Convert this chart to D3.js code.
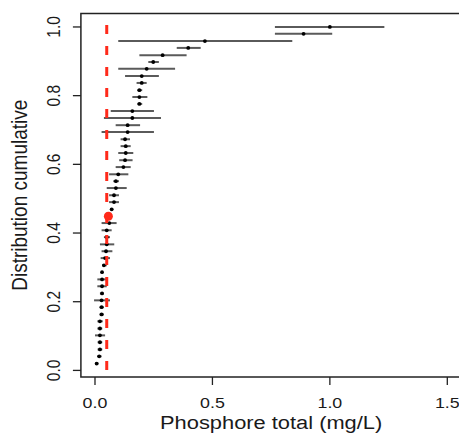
<!DOCTYPE html>
<html>
<head>
<meta charset="utf-8">
<script src="https://cdn.jsdelivr.net/npm/d3@7"></script>
<style>
  html, body { margin: 0; padding: 0; background: #ffffff; }
  svg { display: block; }
  text { font-family: "Liberation Sans", Arial, Helvetica, sans-serif; fill: #1a1a1a; }
</style>
</head>
<body>
<svg id="chart" width="459" height="445"></svg>
<script>
// Cumulative distribution position of each sample (top to bottom)
const cdf = [1.000, 0.980, 0.959, 0.939, 0.918, 0.898, 0.878, 0.857, 0.837, 0.816,
             0.796, 0.776, 0.755, 0.735, 0.714, 0.694, 0.673, 0.653, 0.633, 0.612,
             0.592, 0.571, 0.551, 0.531, 0.510, 0.490, 0.469, 0.449, 0.429, 0.408,
             0.388, 0.367, 0.347, 0.327, 0.306, 0.286, 0.265, 0.245, 0.224, 0.204,
             0.184, 0.163, 0.143, 0.122, 0.102, 0.082, 0.061, 0.041, 0.020];
// Total phosphorus estimate (mg/L)
const phosphore = [1.000, 0.888, 0.468, 0.397, 0.288, 0.248, 0.220, 0.199, 0.199, 0.189,
                   0.189, 0.189, 0.159, 0.159, 0.139, 0.139, 0.128, 0.131, 0.131, 0.128,
                   0.121, 0.099, 0.089, 0.089, 0.081, 0.081, 0.071, 0.061, 0.061, 0.050,
                   0.050, 0.050, 0.047, 0.043, 0.038, 0.030, 0.030, 0.030, 0.030, 0.028,
                   0.028, 0.028, 0.021, 0.021, 0.021, 0.021, 0.021, 0.018, 0.007];
// Lower and upper bounds of each interval
const lower = [0.766, 0.766, 0.099, 0.348, 0.189, 0.227, 0.099, 0.128, 0.177, 0.180,
               0.159, 0.180, 0.067, 0.038, 0.088, 0.028, 0.109, 0.109, 0.099, 0.103,
               0.088, 0.060, 0.078, 0.050, 0.060, 0.060, 0.064, 0.053, 0.028, 0.028,
               0.038, 0.021, 0.028, 0.024, 0.030, 0.028, 0.010, 0.010, 0.021, -0.004,
               0.019, 0.019, 0.010, 0.010, 0.000, 0.011, 0.011, 0.009, 0.000];
const upper = [1.232, 1.010, 0.840, 0.450, 0.390, 0.272, 0.341, 0.272, 0.220, 0.201,
               0.223, 0.201, 0.251, 0.281, 0.192, 0.251, 0.149, 0.152, 0.163, 0.160,
               0.152, 0.142, 0.102, 0.135, 0.102, 0.102, 0.078, 0.070, 0.092, 0.071,
               0.064, 0.082, 0.074, 0.064, 0.050, 0.033, 0.050, 0.050, 0.038, 0.064,
               0.038, 0.038, 0.033, 0.031, 0.043, 0.031, 0.031, 0.028, 0.015];
// Reference threshold and highlighted point
const threshold = [0.05];
const highlight = [{ x: 0.057, y: 0.449 }];
const xTicks = [0, 0.5, 1.0, 1.5];
const yTicks = [0, 0.2, 0.4, 0.6, 0.8, 1.0];
const xTitle = "Phosphore total (mg/L)";
const yTitle = "Distribution cumulative";

const data = cdf.map((y, i) => ({ y, x: phosphore[i], lo: lower[i], hi: upper[i] }));

const svg = d3.select("#chart");
const stretch = 1.15; // horizontal stretch of the original rendering

// R-like 4% expansion
const xlim = [0, 1.5];
const xr = xlim[1] - xlim[0];
const yExt = d3.extent(cdf);
const yr = yExt[1] - yExt[0];

const x = d3.scaleLinear()
  .domain([xlim[0] - 0.04 * xr, xlim[1] + 0.04 * xr])
  .range([80.9, 461.4]);
const y = d3.scaleLinear()
  .domain([yExt[0] - 0.04 * yr, yExt[1] + 0.04 * yr])
  .range([377, 13.5]);

const [x0, x1] = x.range();
const [yb, yt] = y.range();

// error bars
svg.append("g").selectAll("line")
  .data(data).join("line")
  .attr("x1", d => x(d.lo)).attr("x2", d => x(d.hi))
  .attr("y1", d => y(d.y)).attr("y2", d => y(d.y))
  .attr("stroke", "#5a5a5a").attr("stroke-width", 2);

// points
svg.append("g").selectAll("circle")
  .data(data).join("circle")
  .attr("cx", d => x(d.x)).attr("cy", d => y(d.y))
  .attr("r", 1.9).attr("fill", "#000");

// threshold line
svg.append("g").selectAll("line")
  .data(threshold).join("line")
  .attr("x1", d => x(d)).attr("x2", d => x(d))
  .attr("y1", y(1.0) - 2).attr("y2", y(0))
  .attr("stroke", "#ff2a1a").attr("stroke-width", 3)
  .attr("stroke-dasharray", "9,12");

// highlighted point
svg.append("g").selectAll("circle")
  .data(highlight).join("circle")
  .attr("cx", d => x(d.x)).attr("cy", d => y(d.y))
  .attr("r", 4.5).attr("fill", "#ff2a1a");

// box
svg.append("rect")
  .attr("x", x0).attr("y", yt)
  .attr("width", x1 - x0).attr("height", yb - yt)
  .attr("fill", "none").attr("stroke", "#222").attr("stroke-width", 1.5);

// x axis ticks
const gx = svg.append("g");
gx.selectAll("line").data(xTicks).join("line")
  .attr("x1", d => x(d)).attr("x2", d => x(d))
  .attr("y1", yb).attr("y2", yb + 8)
  .attr("stroke", "#222").attr("stroke-width", 1.3);
gx.selectAll("text").data(xTicks).join("text")
  .attr("transform", d => `translate(${x(d)},${408}) scale(${stretch},1)`)
  .attr("text-anchor", "middle")
  .style("font-size", "15.5px")
  .text(d => d3.format(".1f")(d));

// y axis ticks
const gy = svg.append("g");
gy.selectAll("line").data(yTicks).join("line")
  .attr("x1", x0 - 8).attr("x2", x0)
  .attr("y1", d => y(d)).attr("y2", d => y(d))
  .attr("stroke", "#222").attr("stroke-width", 1.3);
gy.selectAll("text").data(yTicks).join("text")
  .attr("transform", d => `translate(${60},${y(d)}) scale(${stretch},1) rotate(-90)`)
  .attr("text-anchor", "middle")
  .style("font-size", "15.5px")
  .text(d => d3.format(".1f")(d));

// titles
svg.append("text")
  .attr("transform", `translate(${(x0 + x1) / 2},${429}) scale(${stretch},1)`)
  .attr("text-anchor", "middle")
  .style("font-size", "19px")
  .text(xTitle);
svg.append("text")
  .attr("transform", `translate(${27},${(yb + yt) / 2}) scale(${stretch},1) rotate(-90)`)
  .attr("text-anchor", "middle")
  .style("font-size", "19px")
  .text(yTitle);
</script>
</body>
</html>
